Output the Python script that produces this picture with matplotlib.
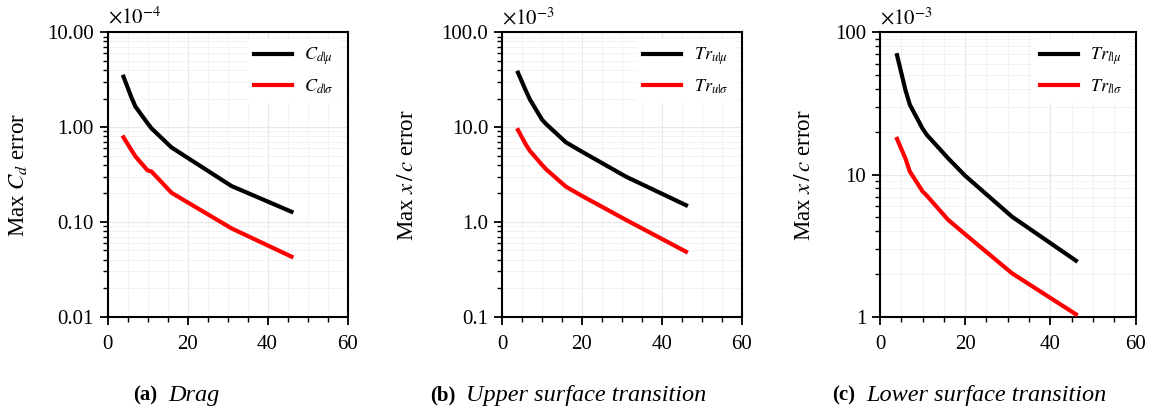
import matplotlib
matplotlib.use("Agg")
import matplotlib.pyplot as plt
from matplotlib.ticker import MultipleLocator, LogLocator, FormatStrFormatter, NullFormatter

plt.rcParams['font.family'] = ['Liberation Serif', 'DejaVu Serif']
plt.rcParams['mathtext.fontset'] = 'stix'

# Common x positions (number of samples / modes)
x = [4, 6, 7, 10, 11, 16, 20, 31, 46]

# (a) Drag, values in units of 1e-4
cd_mu = [3.4, 2.05, 1.64, 1.10, 0.97, 0.61, 0.475, 0.239, 0.128]
cd_sigma = [0.78, 0.57, 0.49, 0.35, 0.34, 0.203, 0.161, 0.0855, 0.043]

# (b) Upper surface transition, units of 1e-3
tru_mu = [37.5, 24.0, 19.5, 12.0, 10.8, 6.9, 5.5, 3.0, 1.5]
tru_sigma = [9.3, 6.5, 5.6, 4.0, 3.6, 2.35, 1.88, 1.05, 0.485]

# (c) Lower surface transition, units of 1e-3
trl_mu = [69.0, 39.0, 31.0, 21.0, 19.0, 13.0, 9.8, 5.05, 2.48]
trl_sigma = [17.8, 12.9, 10.5, 7.6, 7.1, 4.8, 3.8, 2.02, 1.04]

panels = [
    dict(mu=cd_mu, sig=cd_sigma, lab_mu=r'$C_{d|\mu}$', lab_sig=r'$C_{d|\sigma}$',
         ylabel=r'Max $C_d$ error', ylim=(0.01, 10), fmt='%.2f', mult=r'$\times10^{-4}$',
         cap_b='(a)', cap_i='Drag'),
    dict(mu=tru_mu, sig=tru_sigma, lab_mu=r'$Tr_{u|\mu}$', lab_sig=r'$Tr_{u|\sigma}$',
         ylabel=r'Max $x\,/\,c$ error', ylim=(0.1, 100), fmt='%.1f', mult=r'$\times10^{-3}$',
         cap_b='(b)', cap_i='Upper surface transition'),
    dict(mu=trl_mu, sig=trl_sigma, lab_mu=r'$Tr_{l|\mu}$', lab_sig=r'$Tr_{l|\sigma}$',
         ylabel=r'Max $x\,/\,c$ error', ylim=(1, 100), fmt='%g', mult=r'$\times10^{-3}$',
         cap_b='(c)', cap_i='Lower surface transition'),
]

W, H = 1150, 412
fig = plt.figure(figsize=(W / 100, H / 100), dpi=100)

ax_px = [(107.5, 240), (502, 240), (880, 255.5)]
top_px, bot_px = 32.3, 316.7
ylabel_x = [18, 408, 805]
cap_left = [133, 430, 832]

renderer = fig.canvas.get_renderer()

for i, p in enumerate(panels):
    l, w = ax_px[i]
    ax = fig.add_axes([l / W, 1 - bot_px / H, w / W, (bot_px - top_px) / H])
    ax.plot(x, p['mu'], color='black', lw=3, label=p['lab_mu'], zorder=3)
    ax.plot(x, p['sig'], color='#ff0000', lw=3, label=p['lab_sig'], zorder=3)
    ax.set_yscale('log')
    ax.set_ylim(*p['ylim'])
    ax.set_xlim(0, 60)
    ax.xaxis.set_major_locator(MultipleLocator(20))
    ax.xaxis.set_minor_locator(MultipleLocator(5))
    ax.yaxis.set_major_locator(LogLocator(base=10, numticks=10))
    ax.yaxis.set_minor_locator(LogLocator(base=10, subs=range(2, 10), numticks=100))
    ax.yaxis.set_major_formatter(FormatStrFormatter(p['fmt']))
    ax.yaxis.set_minor_formatter(NullFormatter())
    ax.grid(True, which='major', color='#e8e8e8', lw=0.8, zorder=0)
    ax.grid(True, which='minor', color='#f2f2f2', lw=0.7, zorder=0)
    ax.set_axisbelow(True)
    for s in ax.spines.values():
        s.set_linewidth(1.5)
        s.set_color('black')
    ax.tick_params(which='major', direction='out', length=6, width=1.3, labelsize=15)
    ax.tick_params(axis='x', which='major', pad=7)
    ax.tick_params(axis='y', which='major', pad=4)
    ax.tick_params(which='minor', direction='out', length=3.5, width=1.0)
    leg = ax.legend(loc='upper right', fontsize=13, frameon=True, handlelength=2.1,
                    labelspacing=0.55, borderaxespad=0.35, handletextpad=0.7)
    leg.get_frame().set_facecolor('white')
    leg.get_frame().set_edgecolor('none')
    leg.get_frame().set_alpha(1)
    ax.text(0.0, 1.012, p['mult'], transform=ax.transAxes, ha='left', va='bottom', fontsize=15)
    fig.text(ylabel_x[i] / W, 1 - 175 / H, p['ylabel'], rotation=90, ha='center', va='center',
             fontsize=16.5)
    yc = 1 - 395 / H
    tb = fig.text(cap_left[i] / W, yc, p['cap_b'], ha='left', va='center', fontsize=15,
                  fontweight='bold')
    bb = tb.get_window_extent(renderer=renderer)
    fig.text((bb.x1 + 11) / W, yc, p['cap_i'], ha='left', va='center', fontsize=17.5,
             fontstyle='italic')

fig.savefig('out.png', dpi=100)
